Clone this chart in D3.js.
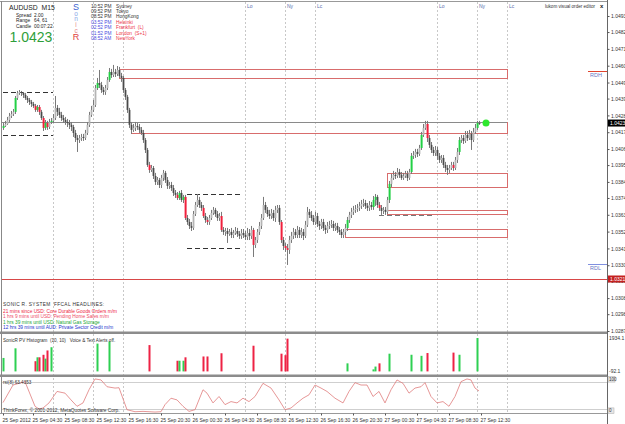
<!DOCTYPE html>
<html>
<head>
<meta charset="utf-8">
<script src="https://cdn.jsdelivr.net/npm/d3@7"></script>
<style>
body { margin: 0; background: #fff; }
svg { display: block; font-family: "Liberation Sans", Arial, sans-serif; }
text { white-space: pre; }
</style>
</head>
<body>
<div id="chart"></div>
<script>
// AUDUSD M15 candles, prices in points (1e-5); open of each bar = previous close
const firstOpen = 104198;
const closes = [
  104211,104224,104250,104276,104289,104303,104394,104427,104433,104427,
  104414,104394,104381,104368,104355,104342,104316,104335,104303,104263,
  104198,104231,104204,104237,104244,104263,104329,104303,104283,104263,
  104250,104237,104231,104218,104204,104165,104132,104119,104132,104139,
  104132,104165,104218,104283,104316,104348,104459,104492,104479,104446,
  104433,104459,104512,104564,104544,104564,104551,104577,104538,104525,
  104446,104401,104316,104218,104185,104198,104211,104204,104185,104165,
  104119,104054,103956,103923,103936,103884,103845,103858,103825,103871,
  103904,103858,103819,103825,103805,103773,103760,103740,103773,103727,
  103747,103609,103583,103557,103544,103635,103694,103727,103694,103675,
  103622,103596,103583,103609,103642,103662,103635,103609,103622,103531,
  103518,103524,103505,103518,103498,103511,103524,103505,103492,103511,
  103498,103485,103511,103492,103531,103433,103465,103518,103557,103609,
  103694,103662,103635,103622,103642,103609,103662,103675,103583,103465,
  103426,103413,103400,103465,103492,103518,103498,103531,103498,103518,
  103492,103564,103649,103629,103609,103583,103622,103570,103557,103583,
  103544,103531,103557,103564,103570,103544,103557,103531,103518,103498,
  103518,103544,103596,103629,103649,103662,103668,103675,103688,103701,
  103707,103688,103675,103694,103681,103727,103747,103694,103675,103655,
  103662,103649,103727,103832,103871,103891,103884,103910,103891,103871,
  103884,103897,103871,103910,104015,104021,104041,104028,104067,104152,
  104198,104224,104132,104087,104054,104034,104054,104015,103989,104002,
  103956,103936,103923,103936,103956,103936,103989,104041,104119,104132,
  104113,104152,104132,104159,104119,104172,104198,104231,104230
];
const highs = [
  104231,104244,104270,104296,104309,104322,104407,104440,104446,104440,
  104433,104427,104407,104394,104381,104368,104355,104348,104348,104316,
  104276,104250,104244,104257,104263,104289,104407,104348,104329,104303,
  104283,104270,104257,104250,104237,104218,104185,104152,104152,104159,
  104159,104185,104237,104303,104342,104381,104479,104525,104577,104499,
  104466,104479,104531,104590,104584,104610,104584,104603,104597,104558,
  104538,104459,104414,104329,104237,104224,104237,104231,104224,104204,
  104185,104132,104067,103976,103956,103949,103904,103877,103871,103891,
  103923,103917,103877,103845,103845,103825,103792,103779,103786,103792,
  103760,103760,103629,103603,103583,103655,103714,103766,103747,103714,
  103694,103642,103616,103629,103662,103681,103675,103655,103642,103649,
  103550,103544,103544,103537,103544,103531,103550,103544,103524,103537,
  103537,103524,103544,103537,103557,103544,103485,103537,103583,103635,
  103747,103714,103681,103662,103668,103662,103688,103694,103694,103596,
  103485,103446,103439,103492,103518,103544,103537,103557,103550,103544,
  103537,103590,103681,103668,103655,103629,103649,103642,103590,103603,
  103603,103564,103583,103590,103596,103590,103577,103577,103550,103537,
  103537,103570,103616,103649,103675,103688,103694,103701,103714,103727,
  103734,103727,103707,103720,103714,103753,103766,103760,103714,103694,
  103681,103681,103747,103851,103897,103917,103910,103936,103930,103910,
  103904,103917,103917,103930,104034,104047,104061,104061,104087,104172,
  104224,104244,104244,104152,104106,104074,104080,104074,104034,104021,
  104021,103976,103956,103956,103976,103976,104008,104067,104139,104152,
  104152,104178,104178,104185,104178,104198,104224,104244,104244
];
const lows = [
  104185,104204,104218,104237,104263,104276,104289,104381,104414,104407,
  104394,104381,104361,104348,104335,104329,104303,104303,104283,104250,
  104178,104185,104185,104191,104224,104231,104250,104276,104263,104244,
  104231,104218,104204,104191,104178,104139,104106,104041,104100,104113,
  104113,104119,104152,104204,104270,104303,104335,104446,104459,104427,
  104414,104414,104446,104499,104525,104531,104531,104538,104525,104499,
  104427,104381,104296,104198,104159,104172,104178,104185,104165,104152,
  104100,104034,103943,103904,103910,103864,103825,103825,103805,103805,
  103851,103838,103799,103799,103786,103753,103740,103727,103727,103714,
  103707,103596,103564,103537,103524,103531,103622,103681,103675,103655,
  103609,103577,103564,103564,103596,103629,103616,103590,103590,103518,
  103498,103492,103446,103492,103478,103478,103498,103485,103472,103472,
  103478,103465,103465,103465,103472,103354,103413,103446,103498,103537,
  103596,103642,103616,103603,103603,103590,103583,103642,103564,103446,
  103400,103387,103302,103374,103446,103472,103478,103478,103478,103478,
  103465,103478,103550,103609,103590,103564,103564,103550,103531,103537,
  103524,103505,103511,103537,103544,103524,103524,103511,103498,103478,
  103478,103498,103524,103577,103609,103629,103642,103649,103655,103668,
  103681,103668,103655,103655,103662,103662,103688,103675,103655,103629,
  103635,103629,103635,103707,103812,103858,103864,103871,103871,103858,
  103858,103871,103851,103858,103897,103995,104002,104008,104015,104054,
  104139,104185,104106,104067,104034,104015,104015,103989,103969,103969,
  103936,103910,103891,103904,103923,103917,103923,103969,104021,104100,
  104093,104100,104113,104119,104054,104106,104159,104185,104218
];

// SonicR PV histogram (bar index, volume, colour)
const pvIndex = [0,6,16,17,18,20,21,22,24,47,53,73,87,88,90,91,100,102,109,125,139,141,142,172,185,186,188,193,204,209,212,225,228,237];
const pvValue = [779,1337,591,816,816,962,740,1213,1400,1610,1735,1524,617,617,617,816,865,865,1051,1487,1026,939,1897,467,119,281,467,1026,964,902,1064,1088,964,1934];
const pvColor = ['g','g','r','g','r','r','g','r','g','g','g','r','r','g','g','r','r','r','r','r','r','r','r','g','g','g','r','g','g','g','r','r','g','g'];

// rsi(8), read at selected bars
const rsiIndex = [0,5,11,16,18,20,23,27,31,34,37,40,43,46,49,52,56,58,62,66,70,76,79,81,84,87,90,93,96,100,102,105,108,111,114,117,120,123,126,130,134,138,141,144,147,150,153,156,159,162,166,170,173,176,179,182,185,188,191,194,197,200,203,206,209,211,214,217,220,223,226,229,232,234,236,238];
const rsiValue = [29,81,91,18,10,13,28,62,57,37,18,28,67,99,96,76,72,73,8,2,3,1,2,23,42,37,18,3,8,67,57,28,47,23,32,28,42,32,47,86,72,37,8,13,28,42,52,81,72,62,42,28,62,88,81,81,47,62,28,67,96,86,57,72,76,88,47,28,32,18,47,91,99,96,72,63.4];
const rsiLevels = [90, 10];

const priceTicks = [1.04930,1.04825,1.04715,1.04605,1.04495,1.04390,1.04280,1.04170,1.04060,1.03955,1.03845,1.03740,1.03630,1.03520,1.03410,1.03300,1.03195,1.03085,1.02980,1.02870];
const timeIndex = [0,15,31,47,63,79,95,111,127,143,159,175,191,207,223,239];
const timeLabels = ['25 Sep 2012','25 Sep 04:30','25 Sep 08:30','25 Sep 12:30','25 Sep 16:30','25 Sep 20:30','26 Sep 00:30','26 Sep 04:30','26 Sep 08:30','26 Sep 12:30','26 Sep 16:30','26 Sep 20:30','27 Sep 00:30','27 Sep 04:30','27 Sep 08:30','27 Sep 12:30'];

// session lines
const sessionIndex = [25,45,60,121,141,156,217,237,252];
const sessionLabel = ['','','','Lo','Ny','Lc','Lo','Ny','Lc'];

// supply / demand zones
const zoneStart = [58,64,192,192,171];
const zoneEnd = [252,252,252,252,252];
const zoneHigh = [1.04584,1.04237,1.03904,1.03662,1.03537];
const zoneLow = [1.04525,1.04165,1.03812,1.03635,1.03485];

// dashed range levels
const levelStart = [0,0,92,92,188];
const levelEnd = [25,25,120,120,215];
const levelPrice = [1.04433,1.04152,1.03766,1.03413,1.03629];

const bid = 1.04230;
const redLine = 1.03210;
const rdh = 1.04570;
const rdl = 1.03310;

const clockTimes = ['10:52 PM','09:52 PM','08:52 PM','03:52 PM','02:52 PM','01:52 PM','08:52 AM'];
const clockCities = ['Sydney','Tokyo','HongKong','Helsinki','Frankfurt  (L)','London  (S+1)','NewYork'];
const headlines = [
  '21 mins since USD: Core Durable Goods Orders m/m',
  '1 hrs 9 mins until USD: Pending Home Sales m/m',
  '1 hrs 39 mins until USD: Natural Gas Storage',
  '12 hrs 39 mins until AUD: Private Sector Credit m/m'
];
const headlineColors = ['#ee2244','#ee4a66','#22a834','#2233cc'];

const width = 625, height = 424, axisX = 607;

const svg = d3.select('#chart').append('svg')
  .attr('width', width).attr('height', height);

const x = d3.scaleLinear().domain([0, 238]).range([3, 479]);
const y = d3.scaleLinear().domain([1.02870, 1.04930]).range([331, 16]);
const pvY = d3.scaleLinear().domain([-92.1, 1934.1]).range([373, 338]);
const rsiY = d3.scaleLinear().domain([0, 100]).range([412.4, 378.6]);

// session lines through all panes
svg.append('g').selectAll('line').data(sessionIndex).enter().append('line')
  .attr('x1', d => Math.round(x(d)) + 0.5).attr('x2', d => Math.round(x(d)) + 0.5)
  .attr('y1', 2).attr('y2', 413)
  .attr('stroke', '#c8c8c8').attr('stroke-dasharray', '2,2');
svg.append('g').selectAll('text').data(sessionIndex).enter().append('text')
  .attr('x', d => x(d) + 2).attr('y', 7.5)
  .attr('font-size', 5).attr('fill', '#5a6fb0')
  .text((d, i) => sessionLabel[i]);

const main = svg.append('g');

// zones
main.selectAll('rect.zone').data(zoneStart).enter().append('rect')
  .attr('class', 'zone')
  .attr('x', d => x(d) + 0.5)
  .attr('width', (d, i) => x(zoneEnd[i]) - x(d))
  .attr('y', (d, i) => Math.round(y(zoneHigh[i])) + 0.5)
  .attr('height', (d, i) => Math.round(y(zoneLow[i]) - y(zoneHigh[i])))
  .attr('fill', 'none').attr('stroke', '#d86c6c');

// bid line
main.append('line')
  .attr('x1', 2).attr('x2', x(252))
  .attr('y1', Math.round(y(bid)) - 0.5).attr('y2', Math.round(y(bid)) - 0.5)
  .attr('stroke', '#8a8a8a');

// dashed levels
main.selectAll('line.level').data(levelPrice).enter().append('line')
  .attr('x1', (d, i) => x(levelStart[i])).attr('x2', (d, i) => x(levelEnd[i]))
  .attr('y1', d => Math.round(y(d)) + 0.5).attr('y2', d => Math.round(y(d)) + 0.5)
  .attr('stroke', (d, i) => i === 4 ? '#777' : '#333')
  .attr('stroke-dasharray', '5,3');

// red line and RDH / RDL
main.append('line').attr('x1', 2).attr('x2', axisX)
  .attr('y1', Math.round(y(redLine)) + 0.5).attr('y2', Math.round(y(redLine)) + 0.5)
  .attr('stroke', '#d84848');
main.append('line').attr('x1', 588).attr('x2', axisX)
  .attr('y1', Math.round(y(rdh)) + 0.5).attr('y2', Math.round(y(rdh)) + 0.5)
  .attr('stroke', '#e0442e');
main.append('text').attr('x', 590).attr('y', y(rdh) + 6).attr('font-size', 5.5)
  .attr('fill', '#6677c4').text('RDH');
main.append('line').attr('x1', 588).attr('x2', axisX)
  .attr('y1', Math.round(y(rdl)) + 0.5).attr('y2', Math.round(y(rdl)) + 0.5)
  .attr('stroke', '#8090e0');
main.append('text').attr('x', 590).attr('y', y(rdl) + 6).attr('font-size', 5.5)
  .attr('fill', '#6677c4').text('RDL');

// candles
const pvColorOf = new Map(pvIndex.map((d, k) => [d, pvColor[k]]));
const candles = closes.map((c, i) => {
  const o = i === 0 ? firstOpen : closes[i - 1];
  return {
    i: i, o: o / 1e5, c: c / 1e5,
    h: Math.max(highs[i], o, c) / 1e5,
    l: Math.min(lows[i], o, c) / 1e5,
    mark: pvColorOf.get(i)
  };
});

const candle = main.selectAll('g.candle').data(candles).enter().append('g');
candle.append('line')
  .attr('x1', d => x(d.i) + 0.5).attr('x2', d => x(d.i) + 0.5)
  .attr('y1', d => y(d.h)).attr('y2', d => y(d.l))
  .attr('stroke', '#7a7a7a').attr('stroke-width', 1);
candle.append('rect')
  .attr('x', d => x(d.i) - 0.4)
  .attr('width', d => d.mark ? 2 : 1.8)
  .attr('y', d => y(Math.max(d.o, d.c)))
  .attr('height', d => Math.max(1, Math.abs(y(d.o) - y(d.c))))
  .attr('fill', d => d.mark === 'g' ? '#22d045' : d.mark === 'r' ? '#f0203c' : (d.c >= d.o ? '#b4b4b4' : '#4a4a4a'));

// current price dot
main.append('circle').attr('cx', x(241.5)).attr('cy', y(bid)).attr('r', 3.5).attr('fill', '#2ee82e');

// PV histogram
svg.append('g').selectAll('rect').data(pvIndex).enter().append('rect')
  .attr('x', d => x(d) - 0.5).attr('width', 2)
  .attr('y', (d, k) => pvY(pvValue[k]))
  .attr('height', (d, k) => pvY(0) - pvY(pvValue[k]))
  .attr('fill', (d, k) => pvColor[k] === 'g' ? '#2ed052' : '#ee2244');

// RSI
svg.append('g').selectAll('line').data(rsiLevels).enter().append('line')
  .attr('x1', 2).attr('x2', axisX)
  .attr('y1', d => Math.round(rsiY(d)) + 0.5).attr('y2', d => Math.round(rsiY(d)) + 0.5)
  .attr('stroke', '#cfcfcf');
svg.append('path')
  .datum(rsiIndex.map((d, k) => [d, rsiValue[k]]))
  .attr('d', d3.line().x(d => x(d[0])).y(d => rsiY(d[1])))
  .attr('fill', 'none').attr('stroke', '#e07c7c').attr('stroke-width', 0.8);

// frame and separators
svg.append('line').attr('x1', 0).attr('x2', axisX).attr('y1', 1.5).attr('y2', 1.5).attr('stroke', '#999');
svg.append('line').attr('x1', 1.5).attr('x2', 1.5).attr('y1', 1).attr('y2', 413).attr('stroke', '#888');
svg.append('rect').attr('x', 0).attr('y', 331.5).attr('width', axisX).attr('height', 2.5).attr('fill', '#8c8c8c');
svg.append('rect').attr('x', 0).attr('y', 374.5).attr('width', axisX).attr('height', 2.5).attr('fill', '#8c8c8c');
svg.append('line').attr('x1', 0).attr('x2', axisX).attr('y1', 413.5).attr('y2', 413.5).attr('stroke', '#999');
svg.append('line').attr('x1', axisX + 0.5).attr('x2', axisX + 0.5).attr('y1', 0).attr('y2', height).attr('stroke', '#666');

// price axis
svg.append('g')
  .attr('transform', `translate(${axisX + 0.5},0)`)
  .call(d3.axisRight(y).tickValues(priceTicks).tickSize(2).tickPadding(1.5).tickFormat(d3.format('.5f')))
  .attr('font-size', 5).attr('font-family', null)
  .call(g => g.select('.domain').remove())
  .call(g => g.selectAll('line').attr('stroke', '#555'))
  .call(g => g.selectAll('text').attr('fill', '#333'));

// current price / red line labels
svg.append('rect').attr('x', axisX + 1).attr('y', y(bid) - 3.5).attr('width', 18).attr('height', 7).attr('fill', '#000');
svg.append('text').attr('x', axisX + 3).attr('y', y(bid) + 1.8).attr('font-size', 5).attr('fill', '#fff').text(d3.format('.5f')(bid));
svg.append('rect').attr('x', axisX + 1).attr('y', y(redLine) - 3.5).attr('width', 18).attr('height', 7).attr('fill', '#c42020');
svg.append('text').attr('x', axisX + 3).attr('y', y(redLine) + 1.8).attr('font-size', 5).attr('fill', '#fff').text(d3.format('.5f')(redLine));

// sub-window scale labels
svg.append('text').attr('x', 609).attr('y', pvY(1934.1) + 1.8).attr('font-size', 5).attr('fill', '#333').text('1934.1');
svg.append('text').attr('x', 609).attr('y', pvY(-92.1)).attr('font-size', 5).attr('fill', '#333').text('-92.1');
svg.append('rect').attr('x', axisX + 1).attr('y', rsiY(100) - 2).attr('width', 7).attr('height', 5.5).attr('fill', '#e6e6e6').attr('stroke', '#aaa').attr('stroke-width', 0.5);
svg.append('text').attr('x', axisX + 2).attr('y', rsiY(100) + 2.6).attr('font-size', 4.5).attr('fill', '#333').text('100');
svg.append('rect').attr('x', axisX + 1).attr('y', rsiY(0) - 4.5).attr('width', 6).attr('height', 5.5).attr('fill', '#e6e6e6').attr('stroke', '#aaa').attr('stroke-width', 0.5);
svg.append('text').attr('x', axisX + 2).attr('y', rsiY(0)).attr('font-size', 4.5).attr('fill', '#333').text('0');

// time axis
svg.append('g')
  .attr('transform', 'translate(0,413.5)')
  .call(d3.axisBottom(x).tickValues(timeIndex).tickSize(2).tickPadding(3).tickFormat((d, k) => timeLabels[k]))
  .attr('font-size', 5).attr('font-family', null)
  .call(g => g.select('.domain').remove())
  .call(g => g.selectAll('line').attr('stroke', '#555'))
  .call(g => g.selectAll('text').attr('text-anchor', 'start').attr('dx', -1).attr('fill', '#333'));

// info panel
svg.append('text').attr('x', 9).attr('y', 9.5).attr('font-size', 6.8).attr('fill', '#222').text('AUDUSD  M15');
const infoLabels = ['Spread', 'Range', 'Candle'];
const infoValues = ['2.00', '64, 61', '00:07:22'];
infoLabels.forEach((t, k) => {
  svg.append('text').attr('x', 16).attr('y', 17 + k * 5.3).attr('font-size', 4.8).attr('fill', '#222').text(t);
  svg.append('text').attr('x', 34).attr('y', 17 + k * 5.3).attr('font-size', 4.8).attr('fill', '#222').text(infoValues[k]);
});
svg.append('text').attr('x', 9.5).attr('y', 42).attr('font-size', 14).attr('fill', '#2e9e3a').text('1.0423');

const sonicLetters = ['S','o','n','i','c','R'];
const sonicY = [9.5, 15.5, 21, 27, 32.5, 39.5];
const sonicSize = [9, 6.5, 6.5, 6.5, 6.5, 9];
const sonicFill = ['#3a5fd0','#8aa8e8','#8aa8e8','#e88888','#e88888','#e04040'];
sonicLetters.forEach((t, k) => {
  svg.append('text').attr('x', 76).attr('y', sonicY[k]).attr('text-anchor', 'middle')
    .attr('font-size', sonicSize[k]).attr('fill', sonicFill[k]).text(t);
});

clockTimes.forEach((t, k) => {
  svg.append('text').attr('x', 91).attr('y', 7.7 + k * 5.38).attr('font-size', 4.8)
    .attr('fill', k < 3 ? '#333' : '#4a4ae0').text(t);
  svg.append('text').attr('x', 116).attr('y', 7.7 + k * 5.38).attr('font-size', 4.8)
    .attr('fill', k < 3 ? '#333' : '#ee3348').text(clockCities[k]);
});

svg.append('text').attr('x', 545).attr('y', 8).attr('font-size', 4.6).attr('fill', '#333').text('lukom visual order editor');
svg.append('text').attr('x', 600).attr('y', 8.3).attr('font-size', 6).attr('font-weight', 'bold').attr('fill', '#222').text('x');

// headlines
svg.append('text').attr('x', 3).attr('y', 305.8).attr('font-size', 4.8).attr('letter-spacing', 0.35)
  .attr('fill', '#333').text('SONIC R. SYSTEM  FFCAL HEADLINES:');
headlines.forEach((t, k) => {
  svg.append('text').attr('x', 3).attr('y', 312.5 + k * 5.5).attr('font-size', 4.8)
    .attr('fill', headlineColors[k]).text(t);
});

svg.append('text').attr('x', 3).attr('y', 342).attr('font-size', 4.6).attr('fill', '#333')
  .text('SonicR PV Histogram  (10, 10)   Voice & Text Alerts off.');
svg.append('text').attr('x', 3).attr('y', 384).attr('font-size', 4.6).attr('fill', '#333')
  .text('rsi(8) 63.4353');
svg.append('text').attr('x', 3).attr('y', 412).attr('font-size', 4.8).attr('fill', '#333')
  .text('ThinkForex, © 2001-2012, MetaQuotes Software Corp.');
</script>
</body>
</html>
